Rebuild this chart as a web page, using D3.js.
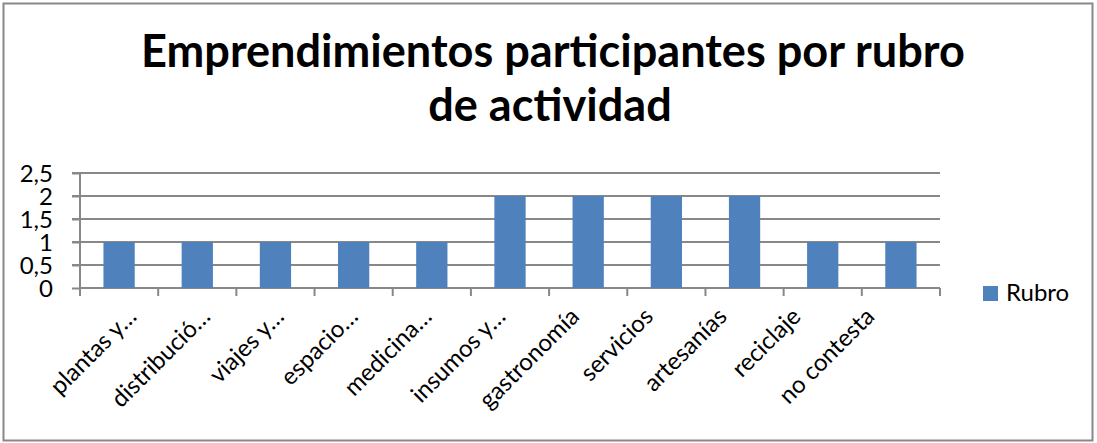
<!DOCTYPE html>
<html>
<head>
<meta charset="utf-8">
<script src="https://cdn.jsdelivr.net/npm/d3@7"></script>
<style>
  body { margin: 0; background: #fff; }
  text { font-family: Lato, "Open Sans", sans-serif; fill: #000; }
</style>
</head>
<body>
<div id="chart"></div>
<script>
// data
const categories = ["plantas y…", "distribució…", "viajes y…", "espacio…", "medicina…",
    "insumos y…", "gastronomía", "servicios", "artesanías", "reciclaje", "no contesta"];
const values = [1, 1, 1, 1, 1, 2, 2, 2, 2, 1, 1];
const yTicks = [0, 0.5, 1, 1.5, 2, 2.5];
const seriesName = "Rubro";
const titleLines = ["Emprendimientos participantes por rubro", "de actividad"];

const W = 1097, H = 443;
const plot = {left: 80, right: 940, top: 173, bottom: 288};

const svg = d3.select("#chart")
    .append("svg")
    .attr("width", W)
    .attr("height", H);

// outer chart border
svg.append("rect")
    .attr("x", 3.5).attr("y", 3.5)
    .attr("width", W - 8).attr("height", H - 6)
    .attr("fill", "#fff")
    .attr("stroke", "#888")
    .attr("stroke-width", 2);

// title, fitted to the reference width
const title = svg.append("g");
const t1 = title.append("text")
    .attr("x", 553).attr("y", 67)
    .attr("text-anchor", "middle")
    .style("font-weight", "bold")
    .style("font-size", "40px")
    .text(titleLines[0]);
const fs = 40 * 824 / t1.node().getComputedTextLength();
t1.style("font-size", fs + "px");
title.append("text")
    .attr("x", 550).attr("y", 121)
    .attr("text-anchor", "middle")
    .style("font-weight", "bold")
    .style("font-size", fs + "px")
    .text(titleLines[1]);

const x = d3.scaleBand()
    .domain(categories)
    .range([plot.left, plot.right])
    .paddingInner(0.6)
    .paddingOuter(0.3);

const y = d3.scaleLinear()
    .domain([0, 2.5])
    .range([plot.bottom, plot.top]);

// gridlines
svg.append("g")
    .selectAll("line")
    .data(yTicks.slice(1))
    .join("line")
    .attr("x1", plot.left - 8).attr("x2", plot.right)
    .attr("y1", d => y(d)).attr("y2", d => y(d))
    .attr("stroke", "#888")
    .attr("stroke-width", 2);

// y axis
const yAxis = svg.append("g")
    .attr("transform", `translate(${plot.left},0)`)
    .call(d3.axisLeft(y).tickValues(yTicks).tickSize(8)
        .tickFormat(d => String(d).replace(".", ",")));
yAxis.select(".domain").attr("stroke", "#888").attr("stroke-width", 2)
    .attr("d", `M0,${plot.top}V${plot.bottom}`);
yAxis.selectAll(".tick line").attr("stroke", "#888").attr("stroke-width", 2);
yAxis.selectAll(".tick text")
    .attr("x", -27)
    .attr("dy", "0.35em")
    .style("font-size", "24px")
    .style("font-family", "Lato, 'Open Sans', sans-serif");

// x axis line + ticks at band boundaries
const bounds = d3.range(categories.length + 1).map(i => plot.left + i * (plot.right - plot.left) / categories.length);
svg.append("line")
    .attr("x1", plot.left).attr("x2", plot.right)
    .attr("y1", plot.bottom).attr("y2", plot.bottom)
    .attr("stroke", "#888").attr("stroke-width", 2);
svg.append("g")
    .selectAll("line")
    .data(bounds)
    .join("line")
    .attr("x1", d => d).attr("x2", d => d)
    .attr("y1", plot.bottom).attr("y2", plot.bottom + 8)
    .attr("stroke", "#888").attr("stroke-width", 2);

// bars
svg.append("g")
    .selectAll("rect")
    .data(values)
    .join("rect")
    .attr("x", (d, i) => x(categories[i]))
    .attr("y", d => y(d))
    .attr("width", x.bandwidth())
    .attr("height", d => y(0) - y(d))
    .attr("fill", "#4F81BD");

// rotated category labels
const labelPos = d3.scalePoint()
    .domain(categories)
    .range([138, 876]);
svg.append("g")
    .selectAll("text")
    .data(categories)
    .join("text")
    .attr("transform", d => `translate(${labelPos(d)},318) rotate(-45)`)
    .attr("text-anchor", "end")
    .style("font-size", "24px")
    .text(d => d);

// legend
svg.append("rect")
    .attr("x", 983).attr("y", 286)
    .attr("width", 15).attr("height", 15)
    .attr("fill", "#4F81BD");
svg.append("text")
    .attr("x", 1006).attr("y", 301)
    .style("font-size", "24px")
    .text(seriesName);
</script>
</body>
</html>
